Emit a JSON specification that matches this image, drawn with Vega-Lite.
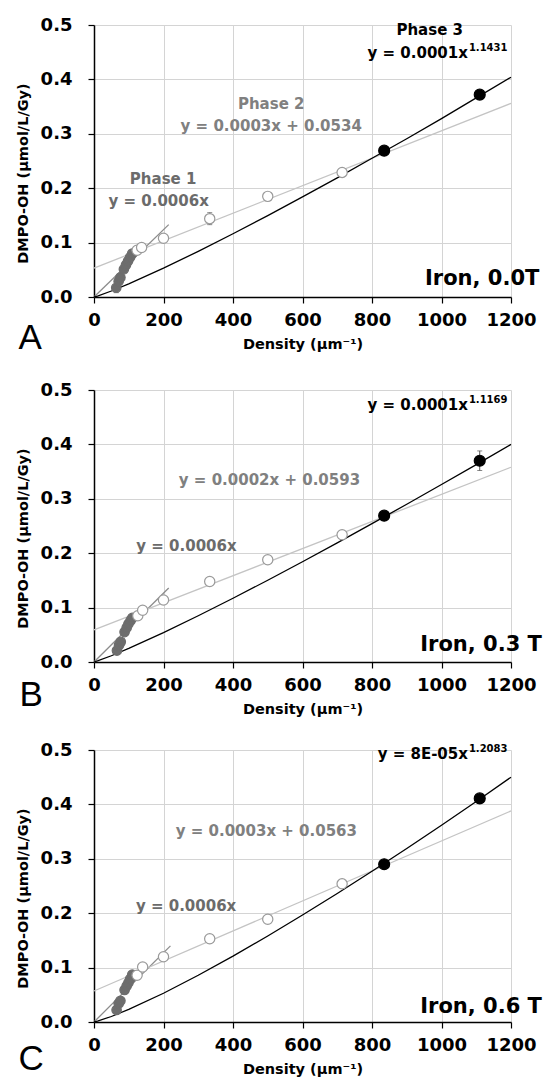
{
  "$schema": "https://vega.github.io/schema/vega-lite/v6.json",
  "padding": {"left": 15, "top": 16, "right": 2, "bottom": 2},
  "background": "white",
  "spacing": 25,
  "config": {
    "view": {"stroke": null},
    "axis": {
      "labelFont": "DejaVu Sans", "labelFontWeight": "bold", "labelFontSize": 18, "labelColor": "#000",
      "titleFont": "DejaVu Sans", "titleFontWeight": "bold", "titleFontSize": 14.5, "titleColor": "#000",
      "domainColor": "#000", "domainWidth": 1.5, "tickColor": "#000", "tickWidth": 1.2, "tickSize": 6,
      "gridColor": "#d4d4d4", "gridWidth": 1, "labelOverlap": false, "labelFlush": false
    }
  },
  "datasets": {
    "pts": [
      {"panel": "A", "phase": "p1", "x": 64, "y": 0.017, "lo": 0.008, "hi": 0.026},
      {"panel": "A", "phase": "p1", "x": 71, "y": 0.029},
      {"panel": "A", "phase": "p1", "x": 76, "y": 0.036},
      {"panel": "A", "phase": "p1", "x": 86, "y": 0.051},
      {"panel": "A", "phase": "p1", "x": 92, "y": 0.059},
      {"panel": "A", "phase": "p1", "x": 98, "y": 0.066},
      {"panel": "A", "phase": "p1", "x": 104, "y": 0.073},
      {"panel": "A", "phase": "p1", "x": 110, "y": 0.080},
      {"panel": "A", "phase": "p2", "x": 124, "y": 0.086},
      {"panel": "A", "phase": "p2", "x": 137, "y": 0.091, "lo": 0.085, "hi": 0.097},
      {"panel": "A", "phase": "p2", "x": 200, "y": 0.108},
      {"panel": "A", "phase": "p2", "x": 333, "y": 0.144, "lo": 0.133, "hi": 0.155},
      {"panel": "A", "phase": "p2", "x": 500, "y": 0.185},
      {"panel": "A", "phase": "p2", "x": 714, "y": 0.229},
      {"panel": "A", "phase": "p3", "x": 835, "y": 0.269},
      {"panel": "A", "phase": "p3", "x": 1110, "y": 0.372},
      {"panel": "B", "phase": "p1", "x": 66, "y": 0.021},
      {"panel": "B", "phase": "p1", "x": 72, "y": 0.031},
      {"panel": "B", "phase": "p1", "x": 77, "y": 0.037},
      {"panel": "B", "phase": "p1", "x": 88, "y": 0.055},
      {"panel": "B", "phase": "p1", "x": 94, "y": 0.063},
      {"panel": "B", "phase": "p1", "x": 99, "y": 0.070},
      {"panel": "B", "phase": "p1", "x": 105, "y": 0.076},
      {"panel": "B", "phase": "p1", "x": 110, "y": 0.081},
      {"panel": "B", "phase": "p2", "x": 126, "y": 0.085},
      {"panel": "B", "phase": "p2", "x": 140, "y": 0.095},
      {"panel": "B", "phase": "p2", "x": 200, "y": 0.114},
      {"panel": "B", "phase": "p2", "x": 333, "y": 0.148},
      {"panel": "B", "phase": "p2", "x": 500, "y": 0.188},
      {"panel": "B", "phase": "p2", "x": 714, "y": 0.234},
      {"panel": "B", "phase": "p3", "x": 835, "y": 0.269},
      {"panel": "B", "phase": "p3", "x": 1110, "y": 0.370, "lo": 0.352, "hi": 0.388},
      {"panel": "C", "phase": "p1", "x": 65, "y": 0.022},
      {"panel": "C", "phase": "p1", "x": 71, "y": 0.034},
      {"panel": "C", "phase": "p1", "x": 76, "y": 0.039},
      {"panel": "C", "phase": "p1", "x": 88, "y": 0.059},
      {"panel": "C", "phase": "p1", "x": 94, "y": 0.066},
      {"panel": "C", "phase": "p1", "x": 99, "y": 0.072},
      {"panel": "C", "phase": "p1", "x": 104, "y": 0.079},
      {"panel": "C", "phase": "p1", "x": 110, "y": 0.087},
      {"panel": "C", "phase": "p2", "x": 124, "y": 0.086},
      {"panel": "C", "phase": "p2", "x": 140, "y": 0.101},
      {"panel": "C", "phase": "p2", "x": 200, "y": 0.120},
      {"panel": "C", "phase": "p2", "x": 333, "y": 0.153},
      {"panel": "C", "phase": "p2", "x": 500, "y": 0.189},
      {"panel": "C", "phase": "p2", "x": 714, "y": 0.254},
      {"panel": "C", "phase": "p3", "x": 835, "y": 0.290},
      {"panel": "C", "phase": "p3", "x": 1110, "y": 0.411}
    ],
    "fits": [
      {"panel": "A", "fit": "p1", "x": 0, "y": 0},
      {"panel": "A", "fit": "p1", "x": 215, "y": 0.133},
      {"panel": "A", "fit": "p2", "x": 0, "y": 0.053},
      {"panel": "A", "fit": "p2", "x": 1200, "y": 0.356},
      {"panel": "A", "fit": "p3", "x": 0, "y": 0},
      {"panel": "A", "fit": "p3", "x": 10, "y": 0.0018},
      {"panel": "A", "fit": "p3", "x": 50, "y": 0.011},
      {"panel": "A", "fit": "p3", "x": 100, "y": 0.0242},
      {"panel": "A", "fit": "p3", "x": 200, "y": 0.053},
      {"panel": "A", "fit": "p3", "x": 300, "y": 0.0839},
      {"panel": "A", "fit": "p3", "x": 400, "y": 0.1163},
      {"panel": "A", "fit": "p3", "x": 500, "y": 0.1497},
      {"panel": "A", "fit": "p3", "x": 600, "y": 0.184},
      {"panel": "A", "fit": "p3", "x": 700, "y": 0.219},
      {"panel": "A", "fit": "p3", "x": 800, "y": 0.255},
      {"panel": "A", "fit": "p3", "x": 900, "y": 0.291},
      {"panel": "A", "fit": "p3", "x": 1000, "y": 0.328},
      {"panel": "A", "fit": "p3", "x": 1100, "y": 0.366},
      {"panel": "A", "fit": "p3", "x": 1200, "y": 0.404},
      {"panel": "B", "fit": "p1", "x": 0, "y": 0},
      {"panel": "B", "fit": "p1", "x": 215, "y": 0.136},
      {"panel": "B", "fit": "p2", "x": 0, "y": 0.059},
      {"panel": "B", "fit": "p2", "x": 1200, "y": 0.358},
      {"panel": "B", "fit": "p3", "x": 0, "y": 0},
      {"panel": "B", "fit": "p3", "x": 10, "y": 0.0019},
      {"panel": "B", "fit": "p3", "x": 50, "y": 0.0115},
      {"panel": "B", "fit": "p3", "x": 100, "y": 0.0249},
      {"panel": "B", "fit": "p3", "x": 200, "y": 0.0539},
      {"panel": "B", "fit": "p3", "x": 300, "y": 0.085},
      {"panel": "B", "fit": "p3", "x": 400, "y": 0.1172},
      {"panel": "B", "fit": "p3", "x": 500, "y": 0.1503},
      {"panel": "B", "fit": "p3", "x": 600, "y": 0.1843},
      {"panel": "B", "fit": "p3", "x": 700, "y": 0.2189},
      {"panel": "B", "fit": "p3", "x": 800, "y": 0.2543},
      {"panel": "B", "fit": "p3", "x": 900, "y": 0.290},
      {"panel": "B", "fit": "p3", "x": 1000, "y": 0.3263},
      {"panel": "B", "fit": "p3", "x": 1100, "y": 0.3629},
      {"panel": "B", "fit": "p3", "x": 1200, "y": 0.400},
      {"panel": "C", "fit": "p1", "x": 0, "y": 0},
      {"panel": "C", "fit": "p1", "x": 220, "y": 0.14},
      {"panel": "C", "fit": "p2", "x": 0, "y": 0.057},
      {"panel": "C", "fit": "p2", "x": 1200, "y": 0.388},
      {"panel": "C", "fit": "p3", "x": 0, "y": 0},
      {"panel": "C", "fit": "p3", "x": 10, "y": 0.0015},
      {"panel": "C", "fit": "p3", "x": 50, "y": 0.0101},
      {"panel": "C", "fit": "p3", "x": 100, "y": 0.0231},
      {"panel": "C", "fit": "p3", "x": 200, "y": 0.0529},
      {"panel": "C", "fit": "p3", "x": 300, "y": 0.086},
      {"panel": "C", "fit": "p3", "x": 400, "y": 0.1211},
      {"panel": "C", "fit": "p3", "x": 500, "y": 0.1582},
      {"panel": "C", "fit": "p3", "x": 600, "y": 0.1967},
      {"panel": "C", "fit": "p3", "x": 700, "y": 0.2362},
      {"panel": "C", "fit": "p3", "x": 800, "y": 0.2771},
      {"panel": "C", "fit": "p3", "x": 900, "y": 0.3188},
      {"panel": "C", "fit": "p3", "x": 1000, "y": 0.3618},
      {"panel": "C", "fit": "p3", "x": 1100, "y": 0.4053},
      {"panel": "C", "fit": "p3", "x": 1200, "y": 0.450}
    ],
    "labels": [
      {"panel": "A", "kind": "t1", "x": 199, "y": 0.217, "text": "Phase 1"},
      {"panel": "A", "kind": "t1", "x": 186, "y": 0.176, "text": "y = 0.0006x"},
      {"panel": "A", "kind": "t2", "x": 510, "y": 0.355, "text": "Phase 2"},
      {"panel": "A", "kind": "t2", "x": 510, "y": 0.314, "text": "y = 0.0003x + 0.0534"},
      {"panel": "A", "kind": "t3", "x": 966, "y": 0.491, "text": "Phase 3"},
      {"panel": "A", "kind": "pm", "x": 1076, "y": 0.449, "text": "y = 0.0001x"},
      {"panel": "A", "kind": "ps", "x": 1076, "y": 0.449, "text": "1.1431"},
      {"panel": "A", "kind": "iron", "x": 1117, "y": 0.033, "text": "Iron, 0.0T"},
      {"panel": "A", "kind": "letter", "x": -184, "y": -0.075, "text": "A"},
      {"panel": "B", "kind": "t1", "x": 266, "y": 0.213, "text": "y = 0.0006x"},
      {"panel": "B", "kind": "t2", "x": 505, "y": 0.334, "text": "y = 0.0002x + 0.0593"},
      {"panel": "B", "kind": "pm", "x": 1076, "y": 0.473, "text": "y = 0.0001x"},
      {"panel": "B", "kind": "ps", "x": 1076, "y": 0.473, "text": "1.1169"},
      {"panel": "B", "kind": "iron", "x": 1114, "y": 0.031, "text": "Iron, 0.3 T"},
      {"panel": "B", "kind": "letter", "x": -181, "y": -0.06, "text": "B"},
      {"panel": "C", "kind": "t1", "x": 265, "y": 0.214, "text": "y = 0.0006x"},
      {"panel": "C", "kind": "t2", "x": 496, "y": 0.352, "text": "y = 0.0003x + 0.0563"},
      {"panel": "C", "kind": "pm", "x": 1076, "y": 0.493, "text": "y = 8E-05x"},
      {"panel": "C", "kind": "ps", "x": 1076, "y": 0.493, "text": "1.2083"},
      {"panel": "C", "kind": "iron", "x": 1114, "y": 0.028, "text": "Iron, 0.6 T"},
      {"panel": "C", "kind": "letter", "x": -181, "y": -0.068, "text": "C"}
    ]
  },
  "vconcat": [
    {
      "width": 417, "height": 272,
      "resolve": {"scale": {"color": "independent", "fill": "independent", "stroke": "independent", "size": "independent"}},
      "layer": [
        {"data": {"name": "fits"}, "transform": [{"filter": "datum.panel === 'A'"}],
         "mark": {"type": "line", "strokeWidth": 1.3},
         "encoding": {
           "x": {"field": "x", "type": "quantitative", "scale": {"domain": [0, 1200], "nice": false, "zero": false},
                 "axis": {"title": "Density (μm⁻¹)", "values": [0, 200, 400, 600, 800, 1000, 1200], "format": "d", "grid": true, "labelPadding": 8, "titlePadding": 8}},
           "y": {"field": "y", "type": "quantitative", "scale": {"domain": [0, 0.5], "nice": false},
                 "axis": {"title": "DMPO-OH (μmol/L/Gy)", "values": [0, 0.1, 0.2, 0.3, 0.4, 0.5], "format": ".1f", "grid": true, "labelPadding": 16, "titlePadding": 10, "titleY": 148}},
           "color": {"field": "fit", "type": "nominal", "scale": {"domain": ["p1", "p2", "p3"], "range": ["#8c8c8c", "#c4c4c4", "#000000"]}, "legend": null},
           "order": {"field": "x", "type": "quantitative"}
         }},
        {"data": {"name": "pts"}, "transform": [{"filter": "datum.panel === 'A' && isValid(datum.lo)"}],
         "mark": {"type": "errorbar", "ticks": true, "color": "#555555", "thickness": 1},
         "encoding": {
           "x": {"field": "x", "type": "quantitative"},
           "y": {"field": "lo", "type": "quantitative", "title": "DMPO-OH (μmol/L/Gy)"},
           "y2": {"field": "hi"}
         }},
        {"data": {"name": "pts"}, "transform": [{"filter": "datum.panel === 'A'"}],
         "mark": {"type": "point", "shape": "circle", "filled": false, "strokeWidth": 1.2, "opacity": 1},
         "encoding": {
           "x": {"field": "x", "type": "quantitative"},
           "y": {"field": "y", "type": "quantitative"},
           "fill": {"field": "phase", "type": "nominal", "scale": {"domain": ["p1", "p2", "p3"], "range": ["#6d6d6d", "#ffffff", "#000000"]}, "legend": null},
           "stroke": {"field": "phase", "type": "nominal", "scale": {"domain": ["p1", "p2", "p3"], "range": ["#6d6d6d", "#9a9a9a", "#000000"]}, "legend": null},
           "size": {"field": "phase", "type": "nominal", "scale": {"domain": ["p1", "p2", "p3"], "range": [90, 120, 100]}, "legend": null}
         }},
        {"data": {"name": "labels"}, "transform": [{"filter": "datum.panel === 'A' && indexof(['t1','t2','t3'], datum.kind) >= 0"}],
         "mark": {"type": "text", "font": "DejaVu Sans", "fontWeight": "bold", "fontSize": 15, "align": "center", "baseline": "middle"},
         "encoding": {
           "x": {"field": "x", "type": "quantitative"},
           "y": {"field": "y", "type": "quantitative"},
           "text": {"field": "text"},
           "color": {"field": "kind", "type": "nominal", "scale": {"domain": ["t1", "t2", "t3"], "range": ["#6b6b6b", "#808080", "#000000"]}, "legend": null}
         }},
        {"data": {"name": "labels"}, "transform": [{"filter": "datum.panel === 'A' && datum.kind === 'pm'"}],
         "mark": {"type": "text", "font": "DejaVu Sans", "fontWeight": "bold", "fontSize": 15, "align": "right", "baseline": "middle", "color": "#000"},
         "encoding": {"x": {"field": "x", "type": "quantitative"}, "y": {"field": "y", "type": "quantitative"}, "text": {"field": "text"}}},
        {"data": {"name": "labels"}, "transform": [{"filter": "datum.panel === 'A' && datum.kind === 'ps'"}],
         "mark": {"type": "text", "font": "DejaVu Sans", "fontWeight": "bold", "fontSize": 10, "align": "left", "baseline": "middle", "dy": -5, "dx": 1, "color": "#000"},
         "encoding": {"x": {"field": "x", "type": "quantitative"}, "y": {"field": "y", "type": "quantitative"}, "text": {"field": "text"}}},
        {"data": {"name": "labels"}, "transform": [{"filter": "datum.panel === 'A' && datum.kind === 'iron'"}],
         "mark": {"type": "text", "font": "DejaVu Sans", "fontWeight": "bold", "fontSize": 21, "align": "center", "baseline": "middle", "color": "#000"},
         "encoding": {"x": {"field": "x", "type": "quantitative"}, "y": {"field": "y", "type": "quantitative"}, "text": {"field": "text"}}},
        {"data": {"name": "labels"}, "transform": [{"filter": "datum.panel === 'A' && datum.kind === 'letter'"}],
         "mark": {"type": "text", "font": "Liberation Sans", "fontSize": 35, "align": "center", "baseline": "middle", "color": "#000"},
         "encoding": {"x": {"field": "x", "type": "quantitative"}, "y": {"field": "y", "type": "quantitative"}, "text": {"field": "text"}}}
      ]
    },
    {
      "width": 417, "height": 272,
      "resolve": {"scale": {"color": "independent", "fill": "independent", "stroke": "independent", "size": "independent"}},
      "layer": [
        {"data": {"name": "fits"}, "transform": [{"filter": "datum.panel === 'B'"}],
         "mark": {"type": "line", "strokeWidth": 1.3},
         "encoding": {
           "x": {"field": "x", "type": "quantitative", "scale": {"domain": [0, 1200], "nice": false, "zero": false},
                 "axis": {"title": "Density (μm⁻¹)", "values": [0, 200, 400, 600, 800, 1000, 1200], "format": "d", "grid": true, "labelPadding": 8, "titlePadding": 8}},
           "y": {"field": "y", "type": "quantitative", "scale": {"domain": [0, 0.5], "nice": false},
                 "axis": {"title": "DMPO-OH (μmol/L/Gy)", "values": [0, 0.1, 0.2, 0.3, 0.4, 0.5], "format": ".1f", "grid": true, "labelPadding": 16, "titlePadding": 10, "titleY": 148}},
           "color": {"field": "fit", "type": "nominal", "scale": {"domain": ["p1", "p2", "p3"], "range": ["#8c8c8c", "#c4c4c4", "#000000"]}, "legend": null},
           "order": {"field": "x", "type": "quantitative"}
         }},
        {"data": {"name": "pts"}, "transform": [{"filter": "datum.panel === 'B' && isValid(datum.lo)"}],
         "mark": {"type": "errorbar", "ticks": true, "color": "#555555", "thickness": 1},
         "encoding": {
           "x": {"field": "x", "type": "quantitative"},
           "y": {"field": "lo", "type": "quantitative", "title": "DMPO-OH (μmol/L/Gy)"},
           "y2": {"field": "hi"}
         }},
        {"data": {"name": "pts"}, "transform": [{"filter": "datum.panel === 'B'"}],
         "mark": {"type": "point", "shape": "circle", "filled": false, "strokeWidth": 1.2, "opacity": 1},
         "encoding": {
           "x": {"field": "x", "type": "quantitative"},
           "y": {"field": "y", "type": "quantitative"},
           "fill": {"field": "phase", "type": "nominal", "scale": {"domain": ["p1", "p2", "p3"], "range": ["#6d6d6d", "#ffffff", "#000000"]}, "legend": null},
           "stroke": {"field": "phase", "type": "nominal", "scale": {"domain": ["p1", "p2", "p3"], "range": ["#6d6d6d", "#9a9a9a", "#000000"]}, "legend": null},
           "size": {"field": "phase", "type": "nominal", "scale": {"domain": ["p1", "p2", "p3"], "range": [90, 120, 100]}, "legend": null}
         }},
        {"data": {"name": "labels"}, "transform": [{"filter": "datum.panel === 'B' && indexof(['t1','t2','t3'], datum.kind) >= 0"}],
         "mark": {"type": "text", "font": "DejaVu Sans", "fontWeight": "bold", "fontSize": 15, "align": "center", "baseline": "middle"},
         "encoding": {
           "x": {"field": "x", "type": "quantitative"},
           "y": {"field": "y", "type": "quantitative"},
           "text": {"field": "text"},
           "color": {"field": "kind", "type": "nominal", "scale": {"domain": ["t1", "t2", "t3"], "range": ["#6b6b6b", "#808080", "#000000"]}, "legend": null}
         }},
        {"data": {"name": "labels"}, "transform": [{"filter": "datum.panel === 'B' && datum.kind === 'pm'"}],
         "mark": {"type": "text", "font": "DejaVu Sans", "fontWeight": "bold", "fontSize": 15, "align": "right", "baseline": "middle", "color": "#000"},
         "encoding": {"x": {"field": "x", "type": "quantitative"}, "y": {"field": "y", "type": "quantitative"}, "text": {"field": "text"}}},
        {"data": {"name": "labels"}, "transform": [{"filter": "datum.panel === 'B' && datum.kind === 'ps'"}],
         "mark": {"type": "text", "font": "DejaVu Sans", "fontWeight": "bold", "fontSize": 10, "align": "left", "baseline": "middle", "dy": -5, "dx": 1, "color": "#000"},
         "encoding": {"x": {"field": "x", "type": "quantitative"}, "y": {"field": "y", "type": "quantitative"}, "text": {"field": "text"}}},
        {"data": {"name": "labels"}, "transform": [{"filter": "datum.panel === 'B' && datum.kind === 'iron'"}],
         "mark": {"type": "text", "font": "DejaVu Sans", "fontWeight": "bold", "fontSize": 21, "align": "center", "baseline": "middle", "color": "#000"},
         "encoding": {"x": {"field": "x", "type": "quantitative"}, "y": {"field": "y", "type": "quantitative"}, "text": {"field": "text"}}},
        {"data": {"name": "labels"}, "transform": [{"filter": "datum.panel === 'B' && datum.kind === 'letter'"}],
         "mark": {"type": "text", "font": "Liberation Sans", "fontSize": 35, "align": "center", "baseline": "middle", "color": "#000"},
         "encoding": {"x": {"field": "x", "type": "quantitative"}, "y": {"field": "y", "type": "quantitative"}, "text": {"field": "text"}}}
      ]
    },
    {
      "width": 417, "height": 272,
      "resolve": {"scale": {"color": "independent", "fill": "independent", "stroke": "independent", "size": "independent"}},
      "layer": [
        {"data": {"name": "fits"}, "transform": [{"filter": "datum.panel === 'C'"}],
         "mark": {"type": "line", "strokeWidth": 1.3},
         "encoding": {
           "x": {"field": "x", "type": "quantitative", "scale": {"domain": [0, 1200], "nice": false, "zero": false},
                 "axis": {"title": "Density (μm⁻¹)", "values": [0, 200, 400, 600, 800, 1000, 1200], "format": "d", "grid": true, "labelPadding": 8, "titlePadding": 8}},
           "y": {"field": "y", "type": "quantitative", "scale": {"domain": [0, 0.5], "nice": false},
                 "axis": {"title": "DMPO-OH (μmol/L/Gy)", "values": [0, 0.1, 0.2, 0.3, 0.4, 0.5], "format": ".1f", "grid": true, "labelPadding": 16, "titlePadding": 10, "titleY": 148}},
           "color": {"field": "fit", "type": "nominal", "scale": {"domain": ["p1", "p2", "p3"], "range": ["#8c8c8c", "#c4c4c4", "#000000"]}, "legend": null},
           "order": {"field": "x", "type": "quantitative"}
         }},
        {"data": {"name": "pts"}, "transform": [{"filter": "datum.panel === 'C' && isValid(datum.lo)"}],
         "mark": {"type": "errorbar", "ticks": true, "color": "#555555", "thickness": 1},
         "encoding": {
           "x": {"field": "x", "type": "quantitative"},
           "y": {"field": "lo", "type": "quantitative", "title": "DMPO-OH (μmol/L/Gy)"},
           "y2": {"field": "hi"}
         }},
        {"data": {"name": "pts"}, "transform": [{"filter": "datum.panel === 'C'"}],
         "mark": {"type": "point", "shape": "circle", "filled": false, "strokeWidth": 1.2, "opacity": 1},
         "encoding": {
           "x": {"field": "x", "type": "quantitative"},
           "y": {"field": "y", "type": "quantitative"},
           "fill": {"field": "phase", "type": "nominal", "scale": {"domain": ["p1", "p2", "p3"], "range": ["#6d6d6d", "#ffffff", "#000000"]}, "legend": null},
           "stroke": {"field": "phase", "type": "nominal", "scale": {"domain": ["p1", "p2", "p3"], "range": ["#6d6d6d", "#9a9a9a", "#000000"]}, "legend": null},
           "size": {"field": "phase", "type": "nominal", "scale": {"domain": ["p1", "p2", "p3"], "range": [90, 120, 100]}, "legend": null}
         }},
        {"data": {"name": "labels"}, "transform": [{"filter": "datum.panel === 'C' && indexof(['t1','t2','t3'], datum.kind) >= 0"}],
         "mark": {"type": "text", "font": "DejaVu Sans", "fontWeight": "bold", "fontSize": 15, "align": "center", "baseline": "middle"},
         "encoding": {
           "x": {"field": "x", "type": "quantitative"},
           "y": {"field": "y", "type": "quantitative"},
           "text": {"field": "text"},
           "color": {"field": "kind", "type": "nominal", "scale": {"domain": ["t1", "t2", "t3"], "range": ["#6b6b6b", "#808080", "#000000"]}, "legend": null}
         }},
        {"data": {"name": "labels"}, "transform": [{"filter": "datum.panel === 'C' && datum.kind === 'pm'"}],
         "mark": {"type": "text", "font": "DejaVu Sans", "fontWeight": "bold", "fontSize": 15, "align": "right", "baseline": "middle", "color": "#000"},
         "encoding": {"x": {"field": "x", "type": "quantitative"}, "y": {"field": "y", "type": "quantitative"}, "text": {"field": "text"}}},
        {"data": {"name": "labels"}, "transform": [{"filter": "datum.panel === 'C' && datum.kind === 'ps'"}],
         "mark": {"type": "text", "font": "DejaVu Sans", "fontWeight": "bold", "fontSize": 10, "align": "left", "baseline": "middle", "dy": -5, "dx": 1, "color": "#000"},
         "encoding": {"x": {"field": "x", "type": "quantitative"}, "y": {"field": "y", "type": "quantitative"}, "text": {"field": "text"}}},
        {"data": {"name": "labels"}, "transform": [{"filter": "datum.panel === 'C' && datum.kind === 'iron'"}],
         "mark": {"type": "text", "font": "DejaVu Sans", "fontWeight": "bold", "fontSize": 21, "align": "center", "baseline": "middle", "color": "#000"},
         "encoding": {"x": {"field": "x", "type": "quantitative"}, "y": {"field": "y", "type": "quantitative"}, "text": {"field": "text"}}},
        {"data": {"name": "labels"}, "transform": [{"filter": "datum.panel === 'C' && datum.kind === 'letter'"}],
         "mark": {"type": "text", "font": "Liberation Sans", "fontSize": 35, "align": "center", "baseline": "middle", "color": "#000"},
         "encoding": {"x": {"field": "x", "type": "quantitative"}, "y": {"field": "y", "type": "quantitative"}, "text": {"field": "text"}}}
      ]
    }
  ]
}
